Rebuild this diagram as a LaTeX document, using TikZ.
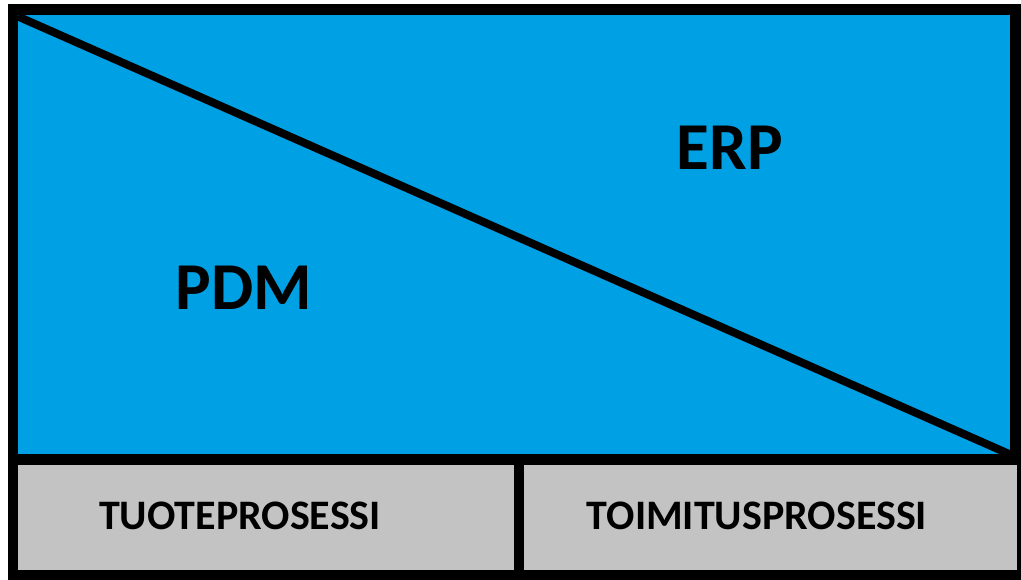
\documentclass[tikz,border=0pt]{standalone}
\usepackage{fontspec}
\setmainfont{Carlito}
\definecolor{erpblue}{RGB}{0,161,228}
\definecolor{procgray}{RGB}{195,195,195}
\begin{document}
\begin{tikzpicture}[x=1pt, y=-1pt, line join=miter, font=\bfseries,
	box/.style={draw=black, line width=10.5pt, inner sep=0pt, outer sep=0pt},
	big/.style={font=\fontsize{67}{67}\selectfont\bfseries, inner sep=0pt},
	small/.style={font=\fontsize{42}{42}\selectfont\bfseries, inner sep=0pt}]
	\useasboundingbox (0,0) rectangle (1021,579);
	% prosessit alla
	\node[box, fill=procgray, minimum width=506pt, minimum height=115.5pt] (tuoteb) at (266,517.25) {};
	\node[box, fill=procgray, minimum width=503pt, minimum height=115.5pt] (toimb) at (770.5,517.25) {};
	% jarjestelmat ylla
	\node[box, fill=erpblue, minimum width=1002.5pt, minimum height=450pt] (top) at (514.25,234.5) {};
	\draw[line width=8pt] ([shift={(5,7)}]top.north west)--([shift={(-3,-4)}]top.south east);
	\node[big] (erp) at (730,148) {ERP};
	\node[big] (pdm) at (244,288) {PDM};
	\node[small] (tuote) at (240,516) {TUOTEPROSESSI};
	\node[small] (toim) at (757,516) {TOIMITUSPROSESSI};
\end{tikzpicture}
\end{document}
